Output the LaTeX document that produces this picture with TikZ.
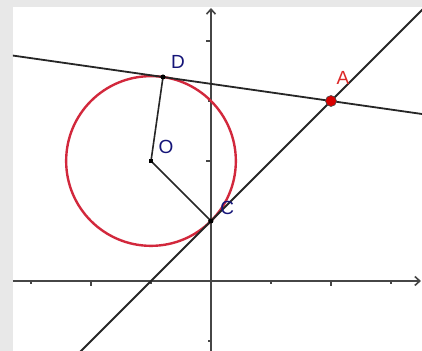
\documentclass[tikz,border=0pt]{standalone}
\usepackage{fontspec}
\setmainfont{Liberation Sans}
\usetikzlibrary{calc,arrows.meta}
\definecolor{frame}{RGB}{232,232,232}
\definecolor{axisgray}{RGB}{70,70,70}
\definecolor{circred}{RGB}{210,40,60}
\definecolor{labnavy}{RGB}{20,20,120}
\definecolor{labred}{RGB}{220,40,40}
\tikzset{
  axisline/.style={axisgray, line width=1.6pt},
  geoline/.style={black!85, line width=1.8pt},
  segline/.style={black!85, line width=1.6pt},
  circline/.style={circred, line width=2.4pt},
  ptdot/.style={fill=black, inner sep=0pt, minimum size=4.5pt, rectangle},
  ptA/.style={circle, fill=red!85!black, draw=black!70, line width=0.6pt, inner sep=0pt, minimum size=11pt},
  lab/.style={font=\fontsize{19}{21}\selectfont, text=labnavy, inner sep=0pt},
  labA/.style={font=\fontsize{19}{21}\selectfont, text=labred, inner sep=0pt},
  tick/.style={axisgray, line width=1.2pt}
}
\begin{document}
\begin{tikzpicture}[x=60pt,y=60pt]
\useasboundingbox (-3.5167,-1.1667) rectangle (3.5167,4.6833);
\fill[frame] (-3.5167,-1.1667) rectangle (3.5167,4.6833);
\fill[white] (-3.3,-1.1667) rectangle (3.5167,4.5667);
\begin{scope}
\clip (-3.3,-1.1667) rectangle (3.5167,4.5667);
% axes
\coordinate (xl) at (-3.3,0);
\coordinate (xr) at (3.5,0);
\coordinate (yb) at (0,-1.1667);
\coordinate (yt) at (0,4.55);
\draw[axisline,-{Straight Barb[length=5pt,width=9pt]}] (xl) -- (xr);
\draw[axisline,-{Straight Barb[length=5pt,width=9pt]}] (yb) -- (yt);
\foreach \i in {-3,-1,1,3} \draw[tick] (\i,0) -- ++(0,-3pt);
\foreach \i in {-2,2} \draw[tick] (\i,0) -- ++(0,-5pt);
\foreach \j in {-1,1,3} \draw[tick] (0,\j) -- ++(-3pt,0);
\foreach \j in {2,4} \draw[tick] (0,\j) -- ++(-5pt,0);
% points
\coordinate (O) at (-1,2);
\coordinate (C) at (0,1);
\coordinate (A) at (2,3);
\coordinate (D) at (-0.8,3.4);
% circle
\draw[circline] (O) circle ({sqrt(2)});
% lines
\draw[geoline] ($(A)!-3!(C)$) -- ($(C)!-3!(A)$);
\draw[geoline] ($(A)!-1!(D)$) -- ($(D)!-1.2!(A)$);
% radii
\draw[segline] (O) -- (D);
\draw[segline] (O) -- (C);
\node[ptdot] (Odot) at (O) {};
\node[ptdot, circle, minimum size=5pt] (Ddot) at (D) {};
\node[ptdot, circle, minimum size=5pt] (Cdot) at (C) {};
\node[ptA] (Adot) at (A) {};
% labels
\node[labA] (Alab) at (2.2,3.38) {A};
\node[lab] (Dlab) at (-0.55,3.65) {D};
\node[lab] (Olab) at (-0.75,2.23) {O};
\node[lab] (Clab) at (0.27,1.22) {C};
\end{scope}
\end{tikzpicture}
\end{document}
